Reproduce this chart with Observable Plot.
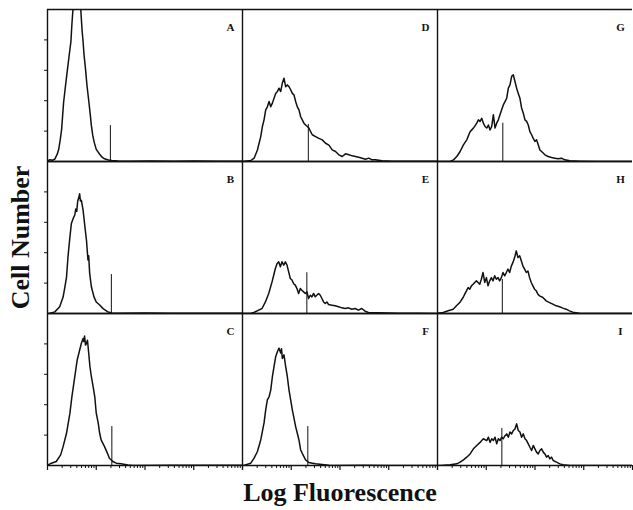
<!DOCTYPE html>
<html><head><meta charset="utf-8">
<script src="https://cdn.jsdelivr.net/npm/d3@7"></script>
<script src="https://cdn.jsdelivr.net/npm/@observablehq/plot@0.6"></script>
<style>body{margin:0;background:#fff}</style>
</head><body><div id="chart"></div>
<script>
// x: log10 fluorescence (decades 0–4), y: relative cell count (0–250)
const panelA = [[0,1],[0.05,3],[0.1,2],[0.15,4],[0.2,12],[0.23,20],[0.26,35],[0.29,53],[0.31,75],[0.33,97],[0.37,125],[0.41,152],[0.45,178],[0.48,197],[0.5,225],[0.52,248],[0.535,262],[0.55,250],[0.57,268],[0.6,282],[0.64,285],[0.67,268],[0.69,240],[0.71,215],[0.73,197],[0.75,175],[0.78,152],[0.81,125],[0.85,97],[0.88,75],[0.9,59],[0.93,42],[0.96,31],[1.0,20],[1.07,12],[1.12,7],[1.17,4.4],[1.25,2.5],[1.32,1.5],[1.45,1],[1.7,0.6],[2.1,1],[2.6,0.5],[3.0,0.8],[3.5,0.4],[4,0.3]];
const panelB = [[0,0],[0.05,0.5],[0.15,2.7],[0.25,11],[0.32,27],[0.36,45],[0.39,60],[0.42,93],[0.46,126],[0.49,148],[0.525,156],[0.56,162],[0.58,172],[0.6,168],[0.62,185],[0.645,192],[0.66,197],[0.675,185],[0.695,186],[0.73,170],[0.76,148],[0.8,120],[0.83,88],[0.845,95],[0.865,66],[0.9,44],[0.955,27],[1.0,19],[1.07,14],[1.14,8],[1.23,3],[1.31,1],[1.5,0.5],[2,0.8],[2.5,0.3],[3,0.5],[4,0.3]];
const panelC = [[0,0],[0.014,1.1],[0.08,3.8],[0.18,6.6],[0.27,17.5],[0.32,31],[0.39,53],[0.46,86],[0.5,113],[0.56,146],[0.61,174],[0.66,190],[0.695,201],[0.73,209],[0.745,204],[0.76,213],[0.78,198],[0.8,201],[0.82,206],[0.845,185],[0.87,163],[0.9,146],[0.935,130],[0.97,113],[1.0,86],[1.04,70],[1.07,53],[1.1,42],[1.17,31],[1.23,20],[1.27,12],[1.34,6.6],[1.41,3.8],[1.51,2.7],[1.65,1],[1.75,0],[2.5,0.5],[3,0.3],[4,0.3]];
const panelD = [[0,0],[0.17,1.6],[0.238,5.5],[0.306,19],[0.374,41],[0.408,57.5],[0.442,68.5],[0.476,85],[0.51,90],[0.545,98.6],[0.579,90],[0.613,96],[0.647,104],[0.681,112],[0.715,115],[0.749,120.6],[0.783,115],[0.817,129],[0.851,137],[0.885,123],[0.92,126],[0.954,123],[0.988,118],[1.022,112],[1.056,109.6],[1.09,98.6],[1.124,90],[1.158,85],[1.192,74],[1.226,68.5],[1.26,63],[1.294,60],[1.329,57.5],[1.363,55],[1.397,49],[1.431,44],[1.499,41],[1.567,38],[1.636,35.6],[1.704,30],[1.772,27],[1.84,19],[1.908,16.4],[1.976,11],[2.045,8.2],[2.113,12.6],[2.181,11],[2.249,9.3],[2.317,8.2],[2.385,7.1],[2.454,5.5],[2.522,3.8],[2.59,5.5],[2.658,2.7],[2.726,2.7],[2.862,1.1],[3.067,0.5],[3.408,0.3],[3.817,0.5],[4,0.2]];
const panelE = [[0,0],[0.163,0],[0.231,1.6],[0.333,5.5],[0.401,8.2],[0.47,19],[0.538,33],[0.606,52],[0.64,63],[0.674,74],[0.708,82],[0.742,85],[0.777,77],[0.81,85],[0.845,79.5],[0.879,85],[0.913,79.5],[0.947,68.5],[0.981,57.5],[1.015,55],[1.049,49],[1.083,46.6],[1.117,41],[1.151,33],[1.186,41],[1.22,38],[1.288,33],[1.322,35.6],[1.356,24.7],[1.39,30],[1.424,27.4],[1.458,33],[1.492,27.4],[1.56,33],[1.595,30],[1.629,24.7],[1.663,19],[1.697,16.4],[1.731,19],[1.765,14.8],[1.833,13.7],[1.901,12.6],[1.969,11],[2.038,9.3],[2.106,8.2],[2.174,9.3],[2.242,7.1],[2.31,8.2],[2.378,5.5],[2.446,8.2],[2.515,3.8],[2.583,1.6],[2.787,1.1],[3.196,0.5],[3.605,0.5],[4,0]];
const panelF = [[0,0],[0.021,0],[0.17,3.8],[0.238,12],[0.306,23],[0.374,42],[0.442,70],[0.476,91.5],[0.51,108],[0.545,113],[0.579,124],[0.613,146],[0.647,163],[0.681,179],[0.715,187],[0.749,193],[0.783,185],[0.8,192],[0.817,176],[0.851,182],[0.885,163],[0.92,146],[0.954,124],[0.988,108],[1.022,91.5],[1.056,78],[1.09,64],[1.124,53],[1.158,42],[1.192,26],[1.226,20],[1.294,9.3],[1.363,4.9],[1.431,3.8],[1.499,2.7],[1.636,1.6],[1.772,0.5],[1.908,0],[2.5,0.3],[3,0.2],[4,0]];
const panelG = [[0,0],[0.26,0],[0.328,2.7],[0.396,8.2],[0.464,16.4],[0.532,27.4],[0.6,35.6],[0.668,49],[0.703,52],[0.737,55],[0.805,63],[0.839,68.5],[0.873,66],[0.907,71],[0.941,63],[0.975,57.5],[1.01,55],[1.044,60],[1.078,52],[1.112,57.5],[1.146,77],[1.18,55],[1.214,63],[1.248,68.5],[1.282,77],[1.316,85],[1.35,93],[1.385,98.6],[1.419,104],[1.453,120.6],[1.487,126],[1.521,140],[1.555,142.5],[1.589,131.5],[1.623,120.6],[1.657,112],[1.691,104],[1.725,88],[1.76,79.5],[1.794,68.5],[1.828,66],[1.862,60],[1.896,49],[1.93,44],[1.964,38],[1.998,33],[2.032,35.6],[2.066,27.4],[2.1,19],[2.135,16.4],[2.203,11],[2.271,8.2],[2.339,6.6],[2.407,5.5],[2.475,4.4],[2.543,5.5],[2.612,2.7],[2.714,1.1],[2.919,0.5],[3.26,0],[4,0]];
const panelH = [[0,0.5],[0.116,1.6],[0.219,4.4],[0.321,7.1],[0.389,12.6],[0.457,18],[0.525,26.3],[0.559,31.8],[0.594,37.3],[0.628,42.7],[0.662,40],[0.696,45.5],[0.73,48],[0.764,51],[0.798,53.7],[0.832,51],[0.866,48],[0.9,56.4],[0.934,67.4],[0.969,51],[1.003,59],[1.037,45.5],[1.071,53.7],[1.105,59],[1.139,53.7],[1.173,62],[1.207,56.4],[1.241,59],[1.275,53.7],[1.31,59],[1.344,67.4],[1.378,62],[1.412,67.4],[1.446,73],[1.48,67.4],[1.514,78],[1.548,84],[1.582,92],[1.616,103],[1.65,92],[1.685,95],[1.719,86.6],[1.753,78],[1.787,73],[1.821,67.4],[1.855,70],[1.889,59],[1.923,51],[1.957,45.5],[1.991,40],[2.026,37.3],[2.06,31.8],[2.094,29],[2.162,26.3],[2.23,20.8],[2.298,18],[2.366,15.3],[2.435,12.6],[2.503,11],[2.571,8.8],[2.639,7.1],[2.707,4.4],[2.775,2.2],[2.912,0.5],[3.32,0],[4,0]];
const panelI = [[0,0],[0.055,0],[0.26,1.1],[0.396,2.7],[0.464,5.5],[0.532,9.3],[0.6,13.7],[0.668,19],[0.737,27.4],[0.805,33],[0.873,38],[0.907,41],[0.941,44],[1.01,41],[1.044,46.6],[1.078,38],[1.112,44],[1.146,41],[1.18,46.6],[1.214,35.6],[1.248,44],[1.282,41],[1.316,46.6],[1.35,44],[1.385,49],[1.419,52],[1.453,46.6],[1.487,55],[1.521,52],[1.555,57.5],[1.589,60],[1.623,68.5],[1.657,57.5],[1.691,55],[1.725,46.6],[1.76,52],[1.794,44],[1.828,41],[1.862,35.6],[1.896,30],[1.93,24.7],[1.964,33],[1.998,27.4],[2.032,22],[2.066,19],[2.1,24.7],[2.135,27.4],[2.169,22],[2.203,19],[2.237,13.7],[2.271,16.4],[2.305,11],[2.339,13.7],[2.373,8.2],[2.441,5.5],[2.51,2.7],[2.578,1.1],[2.714,0],[4,0]];

const panelLetters = ["A","B","C","D","E","F","G","H","I"];
const gateX = [1.29,1.31,1.32,1.35,1.32,1.34,1.34,1.33,1.32];
const gateTop = [59,64,64,61,67,64,63,56,61];
const yTicks = [50,100,150,200];
const majorTicks = [0,1,2,3,4];
const xLabel = "Log Fluorescence";
const yLabel = "Cell Number";

const curves = [panelA,panelB,panelC,panelD,panelE,panelF,panelG,panelH,panelI];
const rows = [];
curves.forEach((pts,i)=>pts.forEach(([x,y])=>rows.push({panel:panelLetters[i], col:Math.floor(i/3), row:i%3, x, y})));
const meta = panelLetters.map((p,i)=>({panel:p, col:Math.floor(i/3), row:i%3, gate:gateX[i], top:gateTop[i]}));
const minorTicks = [];
for (const d of [0,1,2,3]) for (let k=2;k<=9;k++) minorTicks.push(d+Math.log10(k));

const serif = "'Liberation Serif','Times New Roman',serif";
const ink = "#111";

const chart = Plot.plot({
  width: 633, height: 510,
  marginLeft: 46, marginRight: 0, marginTop: 8, marginBottom: 44,
  fx: {domain:[0,1,2], padding:0, axis:null},
  fy: {domain:[0,1,2], padding:0, axis:null},
  x: {domain:[0,4], axis:null},
  y: {domain:[0,250], axis:null},
  style: {background:"#fff", color: ink},
  marks: [
    Plot.axisY({ticks:yTicks, tickSize:3, tickFormat:()=>"", label:null, facetAnchor:"left", stroke:ink}),
    Plot.axisX({ticks:majorTicks, tickSize:5, tickFormat:()=>"", label:null, facetAnchor:"bottom", stroke:ink, strokeWidth:1.2}),
    Plot.axisX({ticks:minorTicks, tickSize:3, tickFormat:()=>"", label:null, facetAnchor:"bottom", stroke:ink}),
    Plot.ruleY([0], {stroke:ink, strokeWidth:1.4}),
    Plot.ruleY([250], {stroke:ink, strokeWidth:1.4}),
    Plot.ruleX([0], {stroke:ink, strokeWidth:1.4}),
    Plot.ruleX(meta, {x:"gate", y1:0, y2:"top", fx:"col", fy:"row", stroke:ink, strokeWidth:1}),
    Plot.line(rows, {x:"x", y:"y", z:"panel", fx:"col", fy:"row", stroke:ink, strokeWidth:1.5, clip:true}),
    Plot.text(meta, {text:"panel", fx:"col", fy:"row", frameAnchor:"top-right", dx:-12, dy:14, textAnchor:"middle", fontFamily:serif, fontWeight:"bold", fontSize:11, fill:ink}),
    Plot.text([{t:yLabel, c:0, r:1}], {text:"t", fx:"c", fy:"r", frameAnchor:"left", dx:-27, rotate:-90, textAnchor:"middle", lineAnchor:"middle", fontFamily:serif, fontWeight:"bold", fontSize:26, fill:ink}),
    Plot.text([{t:xLabel, c:1, r:2}], {text:"t", fx:"c", fy:"r", frameAnchor:"bottom", dy:35, lineAnchor:"bottom", fontFamily:serif, fontWeight:"bold", fontSize:26, fill:ink})
  ]
});
document.getElementById("chart").append(chart);
</script></body></html>
